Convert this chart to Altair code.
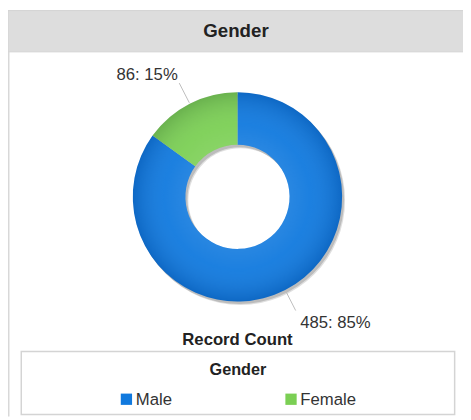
import altair as alt
import pandas as pd

# ---- data ----
genders = ["Male", "Female"]
counts = [485, 86]
order = [0, 1]
colors = ["#1079de", "#7bcf54"]
header_title = ["Gender"]
measure_title = ["Record Count"]
legend_title = ["Gender"]

FONT = "Liberation Sans"
W, H = 463, 412
CX, CY = 233.5, 188.5
R_OUT, R_IN = 106.5, 53

df = pd.DataFrame({"gender": genders, "count": counts, "order": order})
one = pd.DataFrame({"k": [0]})

base = (
    alt.Chart(df)
    .transform_joinaggregate(total="sum(count)")
    .transform_window(cum="sum(count)", sort=[alt.SortField("order")], frame=[None, 0])
    .transform_calculate(
        mid="(datum.cum - datum.count/2)/datum.total*2*PI",
        label="datum.count + ': ' + round(datum.count/datum.total*100) + '%'",
    )
    .transform_calculate(
        lx1=f"{CX} + {R_OUT+1}*sin(datum.mid)",
        ly1=f"{CY} - {R_OUT+1}*cos(datum.mid)",
        lx2=f"{CX} + 130*sin(datum.mid)",
        ly2=f"{CY} - 130*cos(datum.mid)",
        tx=f"{CX} + 140*sin(datum.mid)",
        ty=f"{CY} - 140*cos(datum.mid)",
        lgx="120.5 + datum.order*167.5",
    )
)

# header band
header = alt.Chart(one).mark_rect(color="#dddddd", stroke="#d2d2d2", strokeWidth=1).encode(
    x=alt.value(0), x2=alt.value(W + 2), y=alt.value(-1), y2=alt.value(41)
)
header_text = alt.Chart(pd.DataFrame({"t": header_title})).mark_text(
    font=FONT, fontSize=19, fontWeight="bold", color="#222222", align="center", baseline="middle"
).encode(x=alt.value(232), y=alt.value(20), text="t:N")

left_border = alt.Chart(one).mark_rule(color="#d8d8d8", strokeWidth=1.5).encode(
    x=alt.value(0.75), y=alt.value(41), y2=alt.value(H)
)

# shadow rings
shadow2 = alt.Chart(one).mark_arc(
    innerRadius=R_IN, outerRadius=R_OUT, color="#dcdcdc", opacity=0.9
).encode(
    x=alt.value(CX + 3), y=alt.value(CY + 3.5), theta=alt.value(0), theta2=alt.value(6.2832)
)
shadow = alt.Chart(one).mark_arc(
    innerRadius=R_IN, outerRadius=R_OUT, color="#b8b8b8", opacity=0.9
).encode(
    x=alt.value(CX + 2), y=alt.value(CY + 2.5), theta=alt.value(0), theta2=alt.value(6.2832)
)

donut = alt.Chart(df).mark_arc(innerRadius=R_IN, outerRadius=R_OUT).encode(
    x=alt.value(CX),
    y=alt.value(CY),
    theta=alt.Theta("count:Q", stack=True),
    order=alt.Order("order:Q"),
    color=alt.Color("gender:N", scale=alt.Scale(domain=genders, range=colors), legend=None),
)

shade = alt.Chart(one).mark_arc(
    innerRadius=R_IN,
    outerRadius=R_OUT,
    color={
        "gradient": "radial",
        "x1": 0.5, "y1": 0.5, "r1": 0,
        "x2": 0.5, "y2": 0.5, "r2": 0.5,
        "stops": [
            {"offset": 0.5, "color": "rgba(255,255,255,0.10)"},
            {"offset": 0.7, "color": "rgba(255,255,255,0.05)"},
            {"offset": 1.0, "color": "rgba(0,0,40,0.14)"},
        ],
    },
).encode(x=alt.value(CX), y=alt.value(CY), theta=alt.value(0), theta2=alt.value(6.2832))

leaders = base.mark_rule(color="#bdbdbd", strokeWidth=1).encode(
    x=alt.X("lx1:Q", scale=None, axis=None),
    y=alt.Y("ly1:Q", scale=None, axis=None),
    x2="lx2:Q",
    y2="ly2:Q",
)

label_male = base.transform_filter("datum.order == 0").mark_text(
    font=FONT, fontSize=17, color="#333333", align="left", baseline="middle", dx=0, dy=4
).encode(x=alt.X("tx:Q", scale=None, axis=None), y=alt.Y("ty:Q", scale=None, axis=None), text="label:N")

label_female = base.transform_filter("datum.order == 1").mark_text(
    font=FONT, fontSize=17, color="#333333", align="right", baseline="middle", dx=3, dy=1
).encode(x=alt.X("tx:Q", scale=None, axis=None), y=alt.Y("ty:Q", scale=None, axis=None), text="label:N")

measure_text = alt.Chart(pd.DataFrame({"t": measure_title})).mark_text(
    font=FONT, fontSize=17, fontWeight="bold", color="#222222", align="center", baseline="middle"
).encode(x=alt.value(233.5), y=alt.value(334), text="t:N")

# legend
legend_box = alt.Chart(one).mark_rect(fill="white", stroke="#d4d4d4", strokeWidth=1.5).encode(
    x=alt.value(13.5), x2=alt.value(454.5), y=alt.value(346), y2=alt.value(410)
)
legend_title_text = alt.Chart(pd.DataFrame({"t": legend_title})).mark_text(
    font=FONT, fontSize=16.5, fontWeight="bold", color="#222222", align="center", baseline="middle"
).encode(x=alt.value(234), y=alt.value(365), text="t:N")

legend_sym = base.mark_square(size=132, opacity=1).encode(
    x=alt.X("lgx:Q", scale=None, axis=None),
    y=alt.value(394.5),
    color=alt.Color("gender:N", scale=alt.Scale(domain=genders, range=colors), legend=None),
)
legend_lbl = base.mark_text(
    font=FONT, fontSize=17, color="#333333", align="left", baseline="middle", dx=9.5, dy=1
).encode(x=alt.X("lgx:Q", scale=None, axis=None), y=alt.value(394.5), text="gender:N")

chart = (
    alt.layer(
        header, header_text, left_border, shadow2, shadow, donut, shade, leaders,
        label_male, label_female, measure_text, legend_box, legend_title_text,
        legend_sym, legend_lbl,
    )
    .properties(width=W, height=H, padding=0, autosize=alt.AutoSizeParams(type="none"))
    .configure_view(stroke=None)
)

chart.save("out.html", embed_options={"renderer": "svg", "actions": False})
